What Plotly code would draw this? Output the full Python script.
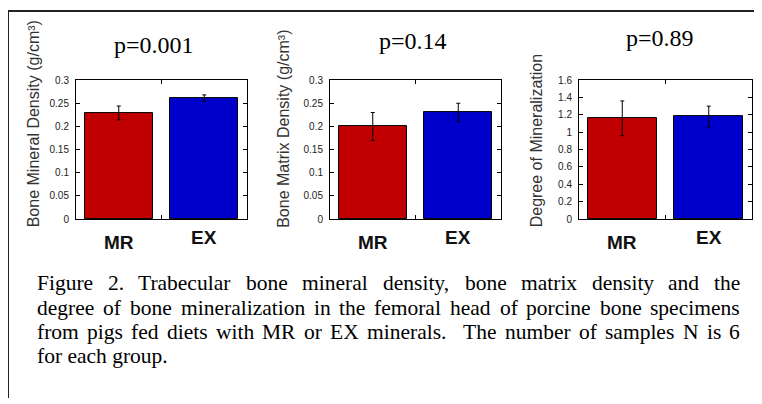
import plotly.graph_objects as go

# ---------------- data ----------------
groups = ["MR", "EX"]
bone_mineral_density = [0.229, 0.261]
bone_mineral_density_err = [0.015, 0.007]
bone_matrix_density = [0.200, 0.230]
bone_matrix_density_err = [0.030, 0.020]
degree_mineralization = [1.16, 1.18]
degree_mineralization_err = [0.20, 0.12]
p_values = ["p=0.001", "p=0.14", "p=0.89"]
y_titles = ["Bone Mineral Density (g/cm³)", "Bone Matrix Density (g/cm³)", "Degree of Mineralization"]
y_ranges = [[0, 0.3], [0, 0.3], [0, 1.6]]
y_dticks = [0.05, 0.05, 0.2]
bar_colors = ["#C00000", "#0000CC"]
caption_lines = [
    "Figure 2. Trabecular bone mineral density, bone matrix density and the",
    "degree of bone mineralization in the femoral head of porcine bone specimens",
    "from pigs fed diets with MR or EX minerals.  The number of samples N is 6",
    "for each group.",
]

# page has an 8px body margin; figure is sized/offset to compensate
OFF = 8
W, H = 762 - OFF, 404 - OFF
def px(x):
    return (x - OFF) / W
def py(y):
    return (H - (y - OFF)) / H

xpos = [i + 1 for i in range(len(groups))]
panels = [
    (bone_mineral_density, bone_mineral_density_err),
    (bone_matrix_density, bone_matrix_density_err),
    (degree_mineralization, degree_mineralization_err),
]
x_domains = [(76, 247), (330, 501), (579, 752)]
y_dom = [py(220), py(77)]

fig = go.Figure()
for i, (vals, errs) in enumerate(panels):
    ax = "" if i == 0 else str(i + 1)
    fig.add_trace(go.Bar(
        x=xpos, y=vals, width=0.8,
        marker=dict(color=bar_colors, line=dict(color="black", width=1)),
        error_y=dict(type="data", array=errs, visible=True, color="black",
                     thickness=1, width=2),
        xaxis="x" + ax, yaxis="y" + ax, showlegend=False,
    ))
    xa = dict(domain=[px(x_domains[i][0]), px(x_domains[i][1])], range=[0.5, 2.5],
              tickvals=[1.5], ticks="inside", ticklen=4, showticklabels=False,
              mirror="ticks", showline=True, linecolor="black", linewidth=1,
              showgrid=False, zeroline=False, anchor="y" + ax, tickcolor="black")
    ya = dict(domain=y_dom, range=y_ranges[i], dtick=y_dticks[i], tick0=0,
              ticks="inside", ticklen=4, mirror="ticks", showline=True,
              linecolor="black", linewidth=1, showgrid=False, zeroline=False,
              tickfont=dict(family="Arial", size=10, color="#222"),
              anchor="x" + ax, tickcolor="black", ticklabelstandoff=4)
    fig.update_layout(**{"xaxis" + ax: xa, "yaxis" + ax: ya})

annotations = []
p_pos = [(154, 41), (413, 37), (660, 34)]
yt_pos = [33, 284, 536]
for i in range(3):
    ax = "" if i == 0 else str(i + 1)
    annotations.append(dict(text=p_values[i], x=px(p_pos[i][0]), y=py(p_pos[i][1]),
                            xref="paper", yref="paper", showarrow=False,
                            xanchor="center", yanchor="middle",
                            font=dict(family="Liberation Serif", size=24, color="black")))
    annotations.append(dict(text=y_titles[i], x=px(yt_pos[i]), y=py(231),
                            xref="paper", yref="paper", showarrow=False, textangle=-90,
                            xanchor="center", yanchor="bottom",
                            font=dict(family="Arial", size=16, color="#333")))
    for j, g in enumerate(groups):
        annotations.append(dict(text="<b>" + g + "</b>", x=xpos[j], y=py(244 if j == 0 else 239),
                                xref="x" + ax, yref="paper", showarrow=False,
                                xanchor="center", yanchor="middle",
                                font=dict(family="Arial", size=19, color="#111")))

# caption, justified using Times metrics
tw = {' ': 250, '.': 250, ',': 250, '0': 500, '1': 500, '2': 500, '3': 500, '4': 500,
      '5': 500, '6': 500, '7': 500, '8': 500, '9': 500,
      'E': 611, 'F': 556, 'M': 889, 'N': 722, 'R': 667, 'T': 611, 'X': 722,
      'a': 444, 'b': 500, 'c': 444, 'd': 500, 'e': 444, 'f': 333, 'g': 500, 'h': 500,
      'i': 278, 'j': 278, 'k': 500, 'l': 278, 'm': 778, 'n': 500, 'o': 500, 'p': 500,
      'q': 500, 'r': 333, 's': 389, 't': 278, 'u': 500, 'v': 500, 'w': 722, 'x': 500,
      'y': 500, 'z': 444}
fs = 21.5
left, right = 35, 738
line_y = [286, 311, 336, 361]
def wlen(w):
    return sum(tw.get(c, 500) for c in w) / 1000 * fs
for k, line in enumerate(caption_lines):
    justify = k < len(caption_lines) - 1
    words = line.split(" ")
    if not justify:
        annotations.append(dict(text=line, x=px(left), y=py(line_y[k]), xref="paper",
                                yref="paper", showarrow=False, xanchor="left",
                                yanchor="middle",
                                font=dict(family="Liberation Serif", size=fs, color="black")))
        continue
    total = sum(wlen(w) for w in words if w)
    nsp = len(words) - 1
    sp = (right - left - total) / nsp
    x = left
    for w in words:
        if w:
            annotations.append(dict(text=w, x=px(x), y=py(line_y[k]), xref="paper",
                                    yref="paper", showarrow=False, xanchor="left",
                                    yanchor="middle",
                                    font=dict(family="Liberation Serif", size=fs, color="black")))
            x += wlen(w)
        x += sp

shapes = [
    dict(type="line", xref="paper", yref="paper", x0=px(8), x1=1, y0=py(6), y1=py(6),
         line=dict(color="#222", width=2)),
    dict(type="line", xref="paper", yref="paper", x0=px(8), x1=px(8), y0=py(6), y1=0,
         line=dict(color="#222", width=2)),
]

fig.update_layout(width=W, height=H, margin=dict(l=0, r=0, t=0, b=0),
                  paper_bgcolor="white", plot_bgcolor="white",
                  annotations=annotations, shapes=shapes, bargap=0)
fig.write_html("out.html")
